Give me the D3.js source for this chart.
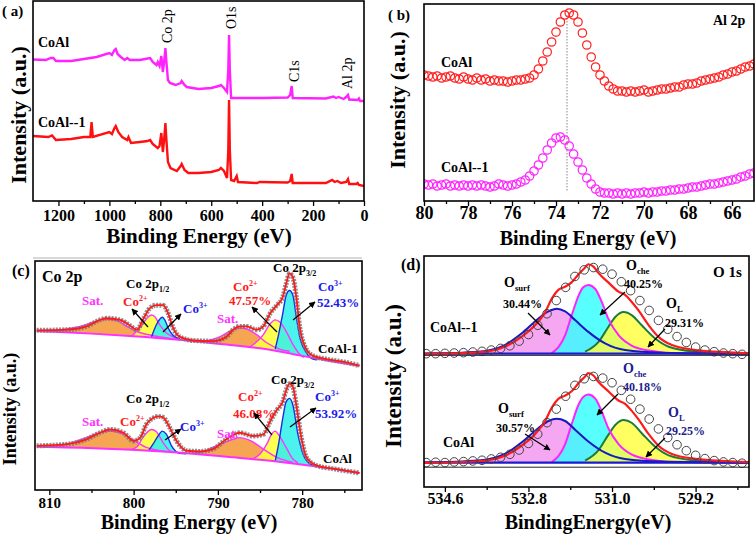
<!DOCTYPE html>
<html>
<head>
<meta charset="utf-8">
<script src="https://cdn.jsdelivr.net/npm/d3@7"></script>
<style>
  body { margin: 0; background: #fff; }
  svg { display: block; }
</style>
</head>
<body>
<svg id="fig" width="756" height="534"></svg>
<script>
// ---------- (a) survey spectra : [binding energy, intensity a.u.] ----------
const surveyCoAl = [[1300,141.5],[1250,141],[1230,143],[1220,143],[1210,140],[1150,140],[1100,142],[1050,144],[1000,148],[990,146],[980,151],[975,152],[968,147],[955,144],[940,141],[930,143],[920,141],[880,141],[860,142],[840,143],[830,139],[815,136],[810,139],[803,135],[796,145],[790,129],[785,139],[780,153],[776,139],[770,121],[762,118],[740,116],[720,118],[716,120],[705,116],[696,114],[650,112],[600,113],[570,115],[562,116],[550,113],[538,109],[533,131],[530,166],[527,131],[522,103],[520,103],[400,103],[300,103.5],[290,106],[284,115],[280,103],[150,102.5],[120,104.5],[110,103],[100,104],[80,102],[70,104],[63,106],[58,101.5],[25,101],[20,102.5],[15,100],[0,100]];
const surveyCoAl1 = [[1300,65],[1240,64],[1225,65.5],[1210,61],[1150,62],[1100,64],[1075,64],[1070,79],[1065,64],[1000,69],[990,67],[980,73],[975,75],[965,69],[950,64],[930,61],[925,64],[915,58],[880,59],[850,60],[840,61],[830,57],[810,53],[803,55],[796,68],[790,49],[785,61],[780,78],[776,61],[770,39],[760,33],[735,30],[720,35],[716,37],[705,31],[690,28],[650,28],[600,29],[570,31],[562,33],[550,30],[538,23],[533,51],[530,101],[527,51],[522,21],[510,20],[500,25],[495,19],[420,18],[410,19],[300,18.5],[290,20],[284,27],[280,18],[150,18],[125,21],[115,19],[105,20],[90,18],[70,19],[63,22],[58,17],[30,17],[25,18],[20,16],[0,15]];
const surveyTicks = [1200, 1000, 800, 600, 400, 200, 0];
const surveyMinor = [1100, 900, 700, 500, 300, 100];
const surveyPeaks = [["Co 2p", 780], ["O1s", 530], ["C1s", 284], ["Al 2p", 74]];

// ---------- (b) Al 2p ----------
const alBE = [80.0,79.8,79.6,79.4,79.2,79.0,78.8,78.6,78.4,78.2,78.0,77.8,77.6,77.4,77.2,77.0,76.8,76.6,76.4,76.2,76.0,75.8,75.6,75.4,75.2,75.0,74.8,74.6,74.4,74.2,74.0,73.8,73.6,73.4,73.2,73.0,72.8,72.6,72.4,72.2,72.0,71.8,71.6,71.4,71.2,71.0,70.8,70.6,70.4,70.2,70.0,69.8,69.6,69.4,69.2,69.0,68.8,68.6,68.4,68.2,68.0,67.8,67.6,67.4,67.2,67.0,66.8,66.6,66.4,66.2,66.0,65.8,65.6,65.4,65.2,65.0];
const alCoAl = [126,125,124,125,123,124,125,123,122,124,122,121,123,121,122,120,121,120,120,119,120,121,121,122,123,126,132,140,149,159,169,179,186,188,186,179,168,156,144,134,126,120,115,112,110,110,109,110,109,110,111,109,110,111,112,112,113,114,114,116,117,117,118,120,121,122,123,124,126,127,129,130,132,134,135,137];
const alCoAl1 = [17,16,17,15,16,17,15,16,15,16,15,16,15,16,15,14,15,17,16,15,16,17,19,21,25,30,36,43,51,58,63,64,61,55,47,39,31,23,17,12,9,8,8,7,8,7,8,7,8,8,9,8,9,9,10,10,11,11,12,12,13,14,14,15,16,17,17,18,19,20,21,22,24,25,27,28];
const alTicks = [80, 78, 76, 74, 72, 70, 68, 66];
const alMinor = [79, 77, 75, 73, 71, 69, 67];
const alRefBE = 73.5;

// ---------- (c) Co 2p : [binding energy, intensity a.u.] ----------
const co2pTopEnv = [[811.5,488],[807.9,490],[805.6,500],[804.0,520],[803.2,525],[801.6,520],[800.4,502],[799.6,490],[798.8,525],[798.1,555],[797.3,565],[796.5,565],[795.9,540],[795.3,495],[794.5,468],[792.9,457],[790.6,455],[789.0,468],[788.2,490],[787.4,500],[786.6,500],[785.4,490],[784.6,500],[783.8,540],[783.0,565],[782.3,590],[781.9,630],[781.5,662],[781.1,650],[780.7,590],[780.3,500],[779.7,440],[778.7,410],[777.1,400],[774.4,388],[773.2,380]];
const co2pTopBg = [[811.5,486],[805,478],[800,470],[795,460],[790,447],[785,433],[782,420],[780,410],[777,396],[773.2,380]];
const co2pTopSat1 = [[810.5,484],[807.9,492],[806.0,502],[804.4,517],[803.2,522],[802.0,518],[800.8,500],[799.6,484],[798.5,476],[797.3,470],[796.1,465],[794.5,459]];
const co2pTopCo2a = [[800.2,471],[799.1,500],[798.3,528],[797.9,535],[797.5,530],[796.9,505],[796.1,480],[795.3,468],[794.8,463]];
const co2pTopCo3a = [[797.9,466],[797.3,505],[796.9,522],[796.6,528],[796.3,520],[795.9,495],[795.3,472],[794.5,462]];
const co2pTopSat2 = [[791.8,452],[789.8,468],[788.2,490],[787.4,495],[786.6,492],[785.4,475],[784.2,450],[782.6,430],[781.5,424]];
const co2pTopCo2b = [[786.2,437],[784.6,475],[783.8,508],[783.2,520],[782.6,512],[781.9,485],[781.1,445],[780.3,415],[779.8,405]];
const co2pTopCo3b = [[783.2,431],[782.8,475],[782.3,540],[781.9,595],[781.5,610],[781.1,595],[780.7,530],[780.3,470],[779.5,420],[778.7,400],[778.2,398]];

const co2pBotEnv = [[811.5,135],[807.9,140],[805.6,155],[804.0,175],[802.8,185],[801.2,175],[800.0,150],[799.2,160],[798.5,200],[797.7,220],[797.1,225],[796.5,222],[795.7,190],[794.9,150],[793.7,120],[792.1,118],[790.6,125],[789.0,155],[787.4,175],[785.8,165],[784.6,170],[783.8,210],[783.0,245],[782.3,270],[781.9,305],[781.5,325],[781.1,315],[780.7,260],[780.1,160],[779.5,100],[778.3,75],[776.3,65],[773.2,52]];
const co2pBotBg = [[811.5,132],[804,127],[796,117],[788.2,100],[782.3,85],[778.3,72],[773.2,52]];
const co2pBotSat1 = [[810,131],[807.9,140],[805.6,160],[804.0,175],[802.8,180],[801.6,175],[800.0,152],[798.5,130],[796.9,120],[795.5,116]];
const co2pBotCo2a = [[800.3,123],[799.6,132],[798.9,160],[797.9,185],[797.3,178],[796.5,145],[795.7,120],[795.2,115]];
const co2pBotCo3a = [[798.2,121],[797.7,140],[797.1,165],[796.6,180],[796.1,170],[795.5,135],[794.5,112],[793.8,111]];
const co2pBotSat2 = [[793.5,112],[792.1,115],[790.2,135],[788.2,155],[787.4,160],[786.2,152],[784.6,125],[783.0,100],[781.1,84]];
const co2pBotCo2b = [[785.8,96],[785.0,110],[784.2,140],[783.6,172],[783.2,180],[782.7,165],[781.9,130],[781.1,95],[780.5,84]];
const co2pBotCo3b = [[783.2,88],[782.8,140],[782.3,220],[781.9,270],[781.5,280],[781.1,260],[780.5,170],[779.9,110],[779.1,80],[778.5,74]];
const co2pTicks = [810, 800, 790, 780];
const co2pMinor = [805, 795, 785, 775];

// ---------- (d) O 1s ----------
const o1sBE = [535.0,534.8,534.6,534.4,534.2,534.0,533.8,533.6,533.4,533.2,533.0,532.8,532.6,532.4,532.2,532.0,531.8,531.6,531.4,531.2,531.0,530.8,530.6,530.4,530.2,530.0,529.8,529.6,529.4,529.2,529.0,528.8,528.6,528.4,528.2];
const o1sTopData = [404,404,405,406,407,409,411,415,420,428,442,462,490,525,565,605,638,658,665,660,645,622,595,565,535,505,478,456,438,424,415,410,406,404,402];
const o1sBotData = [74,75,74,76,77,79,81,85,90,99,112,132,160,195,236,275,308,328,335,330,316,293,266,236,206,176,150,128,110,96,86,80,76,74,72];
const o1sTopEnv = [[535.05,403],[533.88,408],[533.31,425],[532.95,455],[532.66,490],[532.44,530],[532.30,570],[532.15,598],[532.01,607],[531.87,620],[531.72,645],[531.58,665],[531.51,675],[531.40,668],[531.29,648],[531.08,620],[530.86,592],[530.72,582],[530.57,560],[530.43,535],[530.21,490],[530.00,455],[529.71,430],[529.20,415],[528.48,408],[528.05,405]];
const o1sTopSurf = [[535.05,404],[533.88,410],[533.31,430],[532.95,465],[532.59,510],[532.37,532],[532.19,540],[532.01,532],[531.79,505],[531.51,470],[531.15,435],[530.72,415],[529.93,407],[528.05,404]];
const o1sTopChe = [[532.30,405],[532.01,460],[531.87,520],[531.72,580],[531.62,605],[531.51,612],[531.36,600],[531.22,560],[531.08,510],[530.86,460],[530.57,428],[530.14,412],[529.57,405],[528.05,404]];
const o1sTopL = [[531.58,410],[531.29,440],[531.08,485],[530.93,515],[530.75,530],[530.57,520],[530.36,490],[530.07,450],[529.78,425],[529.20,410],[528.48,405],[528.05,404]];
const o1sBotEnv = [[535.05,73],[533.88,78],[533.31,95],[532.95,125],[532.66,160],[532.44,200],[532.30,240],[532.15,268],[532.01,277],[531.87,290],[531.72,315],[531.58,335],[531.51,345],[531.40,338],[531.29,318],[531.08,290],[530.86,262],[530.72,252],[530.57,230],[530.43,205],[530.21,160],[530.00,125],[529.71,100],[529.20,85],[528.48,78],[528.05,75]];
const o1sBotSurf = [[535.05,74],[533.88,80],[533.31,100],[532.95,135],[532.59,178],[532.37,200],[532.19,207],[532.01,200],[531.79,173],[531.51,138],[531.15,104],[530.72,85],[529.93,77],[528.05,74]];
const o1sBotChe = [[532.30,75],[532.01,130],[531.87,190],[531.72,250],[531.62,273],[531.51,280],[531.36,268],[531.22,228],[531.08,178],[530.86,130],[530.57,98],[530.14,82],[529.57,75],[528.05,74]];
const o1sBotL = [[531.58,80],[531.29,112],[531.08,158],[530.93,188],[530.75,203],[530.57,194],[530.36,163],[530.07,122],[529.78,96],[529.20,80],[528.48,75],[528.05,74]];
const o1sBaselines = [404, 74];
const o1sTicks = [534.6, 532.8, 531.0, 529.2];
const o1sMinor = [533.7, 531.9, 530.1, 528.3];

// ---------------------------------------------------------------
const FONT = '"Liberation Serif", "Times New Roman", serif';
const svg = d3.select("#fig");
const defs = svg.append("defs");
defs.append("marker").attr("id", "arrow").attr("viewBox", "0 0 10 10")
  .attr("refX", 9).attr("refY", 5).attr("markerWidth", 5.5).attr("markerHeight", 5.5)
  .attr("orient", "auto")
  .append("path").attr("d", "M0,0L10,5L0,10z").attr("fill", "#000");

function panel(id, box, xDomain, yDomain, major, minor, fmt, tickFont, pad) {
  const x = d3.scaleLinear().domain(xDomain).range([box.l, box.r]);
  const y = d3.scaleLinear().domain(yDomain).range([box.b, box.t]);
  defs.append("clipPath").attr("id", "clip-" + id).append("rect")
    .attr("x", box.l).attr("y", box.t).attr("width", box.r - box.l).attr("height", box.b - box.t);
  const g = svg.append("g");
  const plot = g.append("g").attr("clip-path", `url(#clip-${id})`);
  const ax = g.append("g").attr("transform", `translate(0,${box.b})`)
    .call(d3.axisBottom(x).tickValues(major).tickSize(5).tickPadding(pad).tickFormat(fmt));
  ax.attr("font-family", FONT).attr("font-size", tickFont).attr("font-weight", "bold");
  ax.select(".domain").remove();
  ax.selectAll("line").attr("stroke-width", 1.3);
  const axm = g.append("g").attr("transform", `translate(0,${box.b})`)
    .call(d3.axisBottom(x).tickValues(minor).tickSize(3).tickFormat(""));
  axm.select(".domain").remove();
  axm.selectAll("line").attr("stroke-width", 1.3);
  return { x, y, g, plot, box };
}

function frame(p) {
  p.g.append("rect").attr("x", p.box.l).attr("y", p.box.t)
    .attr("width", p.box.r - p.box.l).attr("height", p.box.b - p.box.t)
    .attr("fill", "none").attr("stroke", "#000").attr("stroke-width", 1.6);
}

function txt(g, x, y, parts, size, color, weight) {
  const t = g.append("text").attr("x", x).attr("y", y)
    .attr("font-family", FONT).attr("font-size", size)
    .attr("font-weight", weight || "bold").attr("fill", color || "#000");
  parts.forEach(p => {
    if (typeof p === "string") t.append("tspan").text(p);
    else if (p.sup) t.append("tspan").attr("font-size", size * 0.62).attr("dy", -size * 0.42).text(p.sup);
    else t.append("tspan").attr("font-size", size * 0.62).attr("dy", size * 0.28).text(p.sub);
  });
  return t;
}

function arrow(g, x1, y1, x2, y2) {
  g.append("line").attr("x1", x1).attr("y1", y1).attr("x2", x2).attr("y2", y2)
    .attr("stroke", "#000").attr("stroke-width", 1.2).attr("marker-end", "url(#arrow)");
}

function xTitle(x, y, s, size) {
  svg.append("text").attr("x", x).attr("y", y).attr("text-anchor", "middle")
    .attr("font-family", FONT).attr("font-size", size).attr("font-weight", "bold").text(s);
}
function yTitle(x, y, size) {
  svg.append("text").attr("transform", `translate(${x},${y}) rotate(-90)`)
    .attr("text-anchor", "middle").attr("font-family", FONT)
    .attr("font-size", size).attr("font-weight", "bold").text("Intensity (a.u.)");
}

// ========== (a) ==========
{
  const p = panel("a", { l: 33, r: 364, t: 1, b: 201 }, [1300, 0], [0, 200],
    surveyTicks, surveyMinor, d3.format("d"), 16, 4);
  const line = d3.line().x(d => p.x(d[0])).y(d => p.y(d[1]));
  p.plot.append("path").datum(surveyCoAl).attr("d", line)
    .attr("fill", "none").attr("stroke", "#ff22ff").attr("stroke-width", 2.4);
  p.plot.append("path").datum(surveyCoAl1).attr("d", line)
    .attr("fill", "none").attr("stroke", "#ff1010").attr("stroke-width", 2.4);
  const tops = [43, 29, 82, 89];
  surveyPeaks.forEach((d, i) => {
    const cx = p.x(d[1]) + 2;
    p.g.append("text").attr("transform", `translate(${cx},${tops[i]}) rotate(-90)`)
      .attr("dy", "0.35em").attr("font-family", FONT).attr("font-size", 14).text(d[0]);
  });
  txt(p.g, 38, 47, ["CoAl"], 14);
  txt(p.g, 38, 127, ["CoAl--1"], 14);
  frame(p);
  svg.append("text").attr("x", 2).attr("y", 16).attr("xml:space", "preserve")
    .attr("font-family", FONT).attr("font-size", 15).attr("font-weight", "bold").text("( a)");
  xTitle(199, 243, "Binding Energy (eV)", 21);
  yTitle(26, 115, 22);
  svg.append("line").attr("x1", 33).attr("x2", 362).attr("y1", 258).attr("y2", 258)
    .attr("stroke", "#b0b0b0").attr("stroke-width", 1);
}

// ========== (b) ==========
{
  const p = panel("b", { l: 424, r: 754, t: 4, b: 201 }, [80, 65], [0, 197],
    alTicks, alMinor, d3.format("d"), 18, 0);
  p.plot.append("line").attr("x1", p.x(alRefBE)).attr("x2", p.x(alRefBE))
    .attr("y1", p.y(186)).attr("y2", p.y(9))
    .attr("stroke", "#888").attr("stroke-width", 1).attr("stroke-dasharray", "1.5,1.5");
  [[alCoAl, "#ff2020"], [alCoAl1, "#ff22ff"]].forEach(([vals, c]) => {
    p.plot.append("g").selectAll("circle").data(vals).join("circle")
      .attr("cx", (d, i) => p.x(alBE[i])).attr("cy", d => p.y(d)).attr("r", 4.2)
      .attr("fill", "none").attr("stroke", c).attr("stroke-width", 1.2);
  });
  txt(p.g, 441, 67, ["CoAl"], 14);
  txt(p.g, 441, 172, ["CoAl--1"], 14);
  txt(p.g, 713, 25, ["Al 2p"], 14);
  frame(p);
  svg.append("text").attr("x", 388).attr("y", 20).attr("xml:space", "preserve")
    .attr("font-family", FONT).attr("font-size", 15).attr("font-weight", "bold").text("( b)");
  xTitle(588, 245, "Binding Energy (eV)", 20);
  yTitle(405, 100, 22);
}

// ========== (c) ==========
{
  const p = panel("c", { l: 35, r: 362, t: 261, b: 490 }, [811.7, 772.9], [0, 700],
    co2pTicks, co2pMinor, d3.format("d"), 15, 2);
  const line = d3.line().x(d => p.x(d[0])).y(d => p.y(d[1])).curve(d3.curveMonotoneX);
  const spectra = [
    { env: co2pTopEnv, bg: co2pTopBg, sat: [co2pTopSat1, co2pTopSat2], co2: [co2pTopCo2a, co2pTopCo2b], co3: [co2pTopCo3a, co2pTopCo3b] },
    { env: co2pBotEnv, bg: co2pBotBg, sat: [co2pBotSat1, co2pBotSat2], co2: [co2pBotCo2a, co2pBotCo2b], co3: [co2pBotCo3a, co2pBotCo3b] }
  ];
  spectra.forEach(s => {
    const bgScale = d3.scaleLinear().domain(s.bg.map(d => d[0])).range(s.bg.map(d => d[1]));
    const area = d3.area().x(d => p.x(d[0])).y0(d => p.y(bgScale(d[0]))).y1(d => p.y(d[1]))
      .curve(d3.curveMonotoneX);
    const comps = [
      ...s.sat.map(c => [c, "#f59a3a", "#ff33ff"]),
      ...s.co2.map(c => [c, "#ffff3a", "#ff33ff"]),
      ...s.co3.map(c => [c, "#33f0ea", "#1a2ee0"])
    ];
    comps.forEach(([c, fill]) => {
      p.plot.append("path").datum(c).attr("d", area).attr("fill", fill).attr("fill-opacity", 0.88);
    });
    comps.forEach(([c, , stroke]) => {
      p.plot.append("path").datum(c).attr("d", line)
        .attr("fill", "none").attr("stroke", stroke).attr("stroke-width", 1.4);
    });
    p.plot.append("path").datum(s.bg).attr("d", line)
      .attr("fill", "none").attr("stroke", "#ff30ff").attr("stroke-width", 2);
    p.plot.append("path").datum(s.env).attr("d", line)
      .attr("fill", "none").attr("stroke", "#7a7a7a").attr("stroke-width", 5)
      .attr("stroke-dasharray", "2,1.2").attr("stroke-opacity", 0.85);
    p.plot.append("path").datum(s.env).attr("d", line)
      .attr("fill", "none").attr("stroke", "#ff1a1a").attr("stroke-width", 1.8);
  });
  const red = "#ff1a1a", blue = "#1a1aee", mag = "#ff33ff";
  txt(p.g, 42, 282, ["Co 2p"], 16);
  // CoAl-1
  txt(p.g, 82, 305, ["Sat."], 13, mag);
  txt(p.g, 123, 306, ["Co", { sup: "2+" }], 13, red);
  txt(p.g, 126, 288, ["Co 2p", { sub: "1/2" }], 13);
  txt(p.g, 183, 313, ["Co", { sup: "3+" }], 13, blue);
  txt(p.g, 273, 272, ["Co 2p", { sub: "3/2" }], 13);
  txt(p.g, 233, 291, ["Co", { sup: "2+" }], 13, red);
  txt(p.g, 229, 305, ["47.57%"], 13, red);
  txt(p.g, 318, 291, ["Co", { sup: "3+" }], 13, blue);
  txt(p.g, 317, 307, ["52.43%"], 13, blue);
  txt(p.g, 217, 323, ["Sat."], 13, mag);
  txt(p.g, 318, 353, ["CoAl-1"], 13);
  arrow(p.g, 148, 327, 132, 309);
  arrow(p.g, 163, 332, 181, 314);
  arrow(p.g, 277, 332, 252, 307);
  arrow(p.g, 293, 320, 315, 302);
  // CoAl
  txt(p.g, 126, 403, ["Co 2p", { sub: "1/2" }], 13);
  txt(p.g, 82, 426, ["Sat."], 13, mag);
  txt(p.g, 120, 426, ["Co", { sup: "2+" }], 13, red);
  txt(p.g, 180, 431, ["Co", { sup: "3+" }], 13, blue);
  txt(p.g, 271, 384, ["Co 2p", { sub: "3/2" }], 13);
  txt(p.g, 238, 401, ["Co", { sup: "2+" }], 13, red);
  txt(p.g, 233, 418, ["46.08%"], 13, red);
  txt(p.g, 315, 401, ["Co", { sup: "3+" }], 13, blue);
  txt(p.g, 315, 418, ["53.92%"], 13, blue);
  txt(p.g, 217, 438, ["Sat."], 13, mag);
  txt(p.g, 323, 463, ["CoAl"], 13);
  arrow(p.g, 165, 440, 181, 429);
  arrow(p.g, 272, 435, 254, 413);
  arrow(p.g, 290, 427, 316, 408);
  frame(p);
  svg.append("text").attr("x", 12).attr("y", 276).attr("font-family", FONT)
    .attr("font-size", 16).attr("font-weight", "bold").text("(c)");
  xTitle(189, 529, "Binding Energy (eV)", 20);
  yTitle(16, 409, 18);
}

// ========== (d) ==========
{
  const p = panel("d", { l: 424, r: 749, t: 256, b: 487 }, [535.05, 528.05], [0, 700],
    o1sTicks, o1sMinor, d3.format(".1f"), 16, 1);
  const line = d3.line().x(d => p.x(d[0])).y(d => p.y(d[1])).curve(d3.curveMonotoneX);
  const spectra = [
    { env: o1sTopEnv, data: o1sTopData, comps: [o1sTopSurf, o1sTopChe, o1sTopL], base: o1sBaselines[0] },
    { env: o1sBotEnv, data: o1sBotData, comps: [o1sBotSurf, o1sBotChe, o1sBotL], base: o1sBaselines[1] }
  ];
  const fills = ["#f6a2f0", "#33ffff", "#ffff40"];
  const strokes = ["#1818c0", "#ff22ff", "#1b7a3c"];
  spectra.forEach(s => {
    const area = d3.area().x(d => p.x(d[0])).y0(p.y(s.base)).y1(d => p.y(d[1])).curve(d3.curveMonotoneX);
    s.comps.forEach((c, i) => {
      p.plot.append("path").datum(c).attr("d", area).attr("fill", fills[i])
        .attr("fill-opacity", i === 0 ? 0.95 : 0.82);
    });
    [2, 1, 0].forEach(i => {
      p.plot.append("path").datum(s.comps[i]).attr("d", line)
        .attr("fill", "none").attr("stroke", strokes[i]).attr("stroke-width", 2);
    });
    p.plot.append("line").attr("x1", p.box.l).attr("x2", p.box.r)
      .attr("y1", p.y(s.base)).attr("y2", p.y(s.base))
      .attr("stroke", "#1a1ad0").attr("stroke-width", 2.2);
    p.plot.append("path").datum(s.env).attr("d", line)
      .attr("fill", "none").attr("stroke", "#ff1a1a").attr("stroke-width", 2.2);
    p.plot.append("g").selectAll("circle").data(s.data).join("circle")
      .attr("cx", (d, i) => p.x(o1sBE[i])).attr("cy", d => p.y(d)).attr("r", 4.3)
      .attr("fill", "none").attr("stroke", "#444").attr("stroke-width", 1);
  });
  [399, 60].forEach(v => {
    p.plot.append("line").attr("x1", p.box.l).attr("x2", p.box.r)
      .attr("y1", p.y(v)).attr("y2", p.y(v)).attr("stroke", "#222").attr("stroke-width", 1);
  });
  const navy = "#20208a";
  txt(p.g, 713, 277, ["O 1s"], 15);
  txt(p.g, 504, 287, ["O", { sub: "surf" }], 14);
  txt(p.g, 503, 308, ["30.44%"], 12);
  txt(p.g, 626, 270, ["O", { sub: "che" }], 14);
  txt(p.g, 624, 288, ["40.25%"], 12);
  txt(p.g, 666, 308, ["O", { sub: "L" }], 14);
  txt(p.g, 665, 327, ["29.31%"], 12);
  txt(p.g, 430, 332, ["CoAl--1"], 14);
  arrow(p.g, 528, 313, 550, 335);
  arrow(p.g, 625, 292, 600, 315);
  arrow(p.g, 665, 329, 648, 347);
  txt(p.g, 498, 413, ["O", { sub: "surf" }], 14);
  txt(p.g, 496, 432, ["30.57%"], 12);
  txt(p.g, 623, 373, ["O", { sub: "che" }], 14, navy);
  txt(p.g, 623, 391, ["40.18%"], 12, navy);
  txt(p.g, 668, 417, ["O", { sub: "L" }], 14, navy);
  txt(p.g, 666, 435, ["29.25%"], 12, navy);
  txt(p.g, 443, 447, ["CoAl"], 14);
  arrow(p.g, 525, 434, 550, 450);
  arrow(p.g, 618, 394, 597, 415);
  arrow(p.g, 665, 438, 646, 457);
  frame(p);
  svg.append("text").attr("x", 401).attr("y", 270).attr("font-family", FONT)
    .attr("font-size", 16).attr("font-weight", "bold").text("(d)");
  xTitle(588, 529, "BindingEnergy(eV)", 20);
  yTitle(401, 376, 23);
}
</script>
</body>
</html>
